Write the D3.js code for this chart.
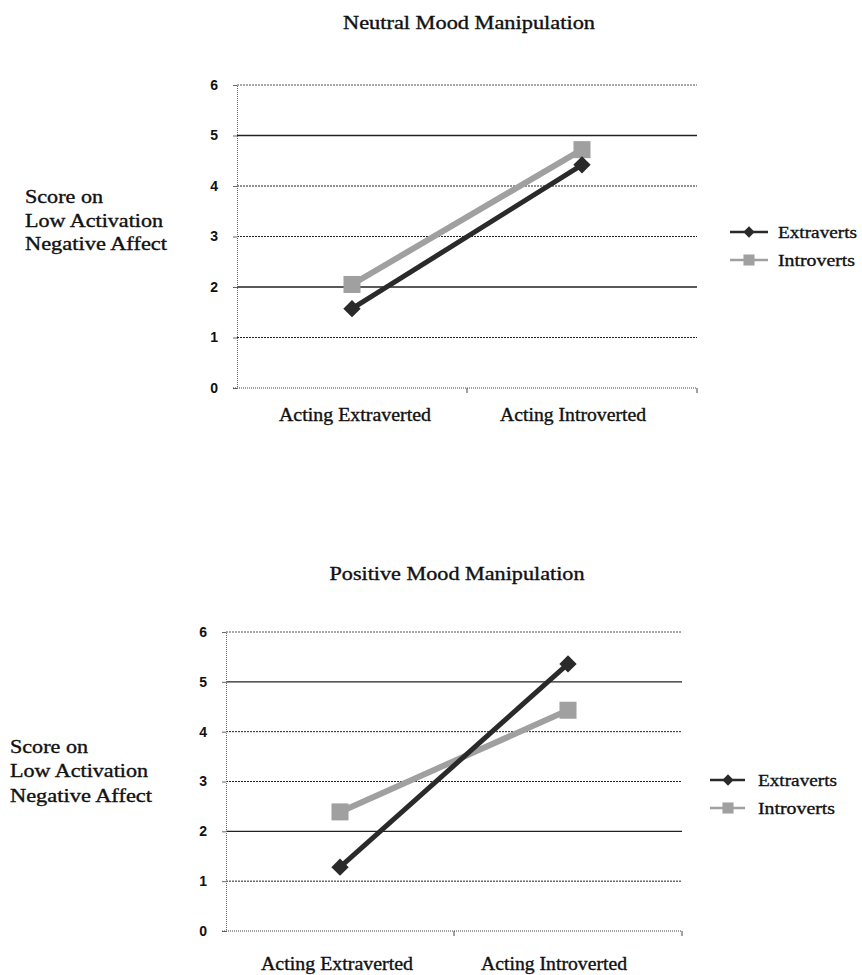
<!DOCTYPE html>
<html>
<head>
<meta charset="utf-8">
<script src="https://cdn.jsdelivr.net/npm/d3@7/dist/d3.min.js"></script>
<style>
  html, body { margin: 0; padding: 0; background: #fff; }
  svg { display: block; }
</style>
</head>
<body>
<svg id="chart" width="862" height="975"></svg>
<script>
// ---------- data ----------
const categories = ["Acting Extraverted", "Acting Introverted"];
const seriesNames = ["Extraverts", "Introverts"];
const yTicks = [0, 1, 2, 3, 4, 5, 6];
const neutralExtraverts = [1.57, 4.42];
const neutralIntroverts = [2.05, 4.72];
const positiveExtraverts = [1.28, 5.36];
const positiveIntroverts = [2.39, 4.43];
const panelTitles = ["Neutral Mood Manipulation", "Positive Mood Manipulation"];
const yTitleLines = ["Score on", "Low Activation", "Negative Affect"];

// ---------- layout / style ----------
const FONT_SERIF = "'Liberation Serif', 'Times New Roman', serif";
const FONT_SANS = "'Liberation Sans', Arial, sans-serif";
const seriesColor = { Extraverts: "#2a2a2a", Introverts: "#a0a0a0" };
const seriesWidth = { Extraverts: 5, Introverts: 6 };
const textWidths = {
  "Neutral Mood Manipulation": 252, "Positive Mood Manipulation": 255,
  "Acting Extraverted": 152, "Acting Introverted": 146,
  "Score on": 78, "Low Activation": 138, "Negative Affect": 142,
  "Extraverts": 79, "Introverts": 77
};

const panels = [
  { title: panelTitles[0], ext: neutralExtraverts, intr: neutralIntroverts,
    left: 237, right: 697, top: 85, bottom: 388, titleY: 29, titleDx: 2,
    yTitleX: 25, yTitleY: [203, 227, 250], labelY: 421, labelDx: [3, -9],
    legend: { lineX0: 730, lineX1: 768, markX: 749, textX: 778, ys: [232, 260] } },
  { title: panelTitles[1], ext: positiveExtraverts, intr: positiveIntroverts,
    left: 226, right: 682, top: 632, bottom: 931, titleY: 580, titleDx: 3,
    yTitleX: 10, yTitleY: [753, 777, 802], labelY: 970, labelDx: [-3, -14],
    legend: { lineX0: 710, lineX1: 745, markX: 728, textX: 758, ys: [780, 808] } }
];

const svg = d3.select("#chart");

function stretchedText(g, txt, x, y, size, anchor) {
  const t = g.append("text")
    .attr("x", x).attr("y", y)
    .attr("font-family", FONT_SERIF)
    .attr("font-size", size)
    .attr("fill", "#111")
    .attr("stroke", "#111")
    .attr("stroke-width", 0.35)
    .attr("text-anchor", anchor || "start")
    .text(txt);
  if (textWidths[txt]) {
    t.attr("textLength", textWidths[txt]).attr("lengthAdjust", "spacingAndGlyphs");
  }
  return t;
}

function marker(g, name, cx, cy, scale) {
  const s = scale || 1;
  if (name === "Extraverts") {
    g.append("path")
      .attr("d", d3.symbol().type(d3.symbolSquare).size(150 * s * s)())
      .attr("transform", `translate(${cx},${cy}) rotate(45)`)
      .attr("fill", seriesColor[name]);
  } else {
    g.append("path")
      .attr("d", d3.symbol().type(d3.symbolSquare).size(290 * s * s)())
      .attr("transform", `translate(${cx},${cy})`)
      .attr("fill", seriesColor[name]);
  }
}

panels.forEach(p => {
  const g = svg.append("g");
  const x = d3.scaleBand().domain(categories).range([p.left, p.right]).paddingInner(0).paddingOuter(0);
  const y = d3.scaleLinear().domain([0, 6]).range([p.bottom, p.top]);
  const cx = c => x(c) + x.bandwidth() / 2;

  // title
  stretchedText(g, p.title, (p.left + p.right) / 2 + p.titleDx, p.titleY, 18, "middle");

  // gridlines
  g.append("g").selectAll("line")
    .data(yTicks.filter(v => v > 0))
    .join("line")
    .attr("x1", p.left).attr("x2", p.right)
    .attr("y1", d => y(d)).attr("y2", d => y(d))
    .attr("stroke", d => d === 6 ? "#555" : "#222")
    .attr("stroke-width", d => (d === 5 || d === 2) ? 1.3 : 1)
    .attr("stroke-dasharray", d => (d === 5 || d === 2) ? null : "2,1");

  // y axis
  const yAxis = g.append("g")
    .attr("transform", `translate(${p.left},0)`)
    .call(d3.axisLeft(y).tickValues(yTicks).tickSize(4).tickPadding(15).tickFormat(d3.format("d")));
  yAxis.select(".domain").attr("stroke", "#666").attr("stroke-dasharray", "1,1");
  yAxis.selectAll(".tick line").attr("stroke", "#666");
  yAxis.selectAll(".tick text")
    .attr("font-family", FONT_SANS).attr("font-size", 14).attr("font-weight", "bold").attr("fill", "#111");

  // x axis baseline with boundary ticks
  g.append("line")
    .attr("x1", p.left - 4).attr("x2", p.right)
    .attr("y1", y(0)).attr("y2", y(0))
    .attr("stroke", "#444").attr("stroke-dasharray", "1,1");
  g.append("g").selectAll("line")
    .data(categories)
    .join("line")
    .attr("x1", d => x(d) + x.bandwidth()).attr("x2", d => x(d) + x.bandwidth())
    .attr("y1", y(0)).attr("y2", y(0) + 5)
    .attr("stroke", "#444");

  // category labels
  categories.forEach((c, i) => {
    stretchedText(g, c, cx(c) + p.labelDx[i], p.labelY, 18, "middle");
  });

  // y axis title
  yTitleLines.forEach((ln, i) => stretchedText(g, ln, p.yTitleX, p.yTitleY[i], 18, "start"));

  // series lines (introverts drawn first so extraverts on top)
  const line = d3.line().x((d, i) => cx(categories[i])).y(d => y(d));
  [["Introverts", p.intr], ["Extraverts", p.ext]].forEach(([name, vals]) => {
    g.append("path")
      .datum(vals)
      .attr("d", line)
      .attr("fill", "none")
      .attr("stroke", seriesColor[name])
      .attr("stroke-width", seriesWidth[name]);
    vals.forEach((v, i) => marker(g, name, cx(categories[i]), y(v), 1));
  });

  // legend
  seriesNames.forEach((name, i) => {
    const ly = p.legend.ys[i];
    g.append("line")
      .attr("x1", p.legend.lineX0).attr("x2", p.legend.lineX1)
      .attr("y1", ly).attr("y2", ly)
      .attr("stroke", seriesColor[name]).attr("stroke-width", 2.5);
    marker(g, name, p.legend.markX, ly, 0.65);
    stretchedText(g, name, p.legend.textX, ly + 6, 17, "start");
  });
});
</script>
</body>
</html>
